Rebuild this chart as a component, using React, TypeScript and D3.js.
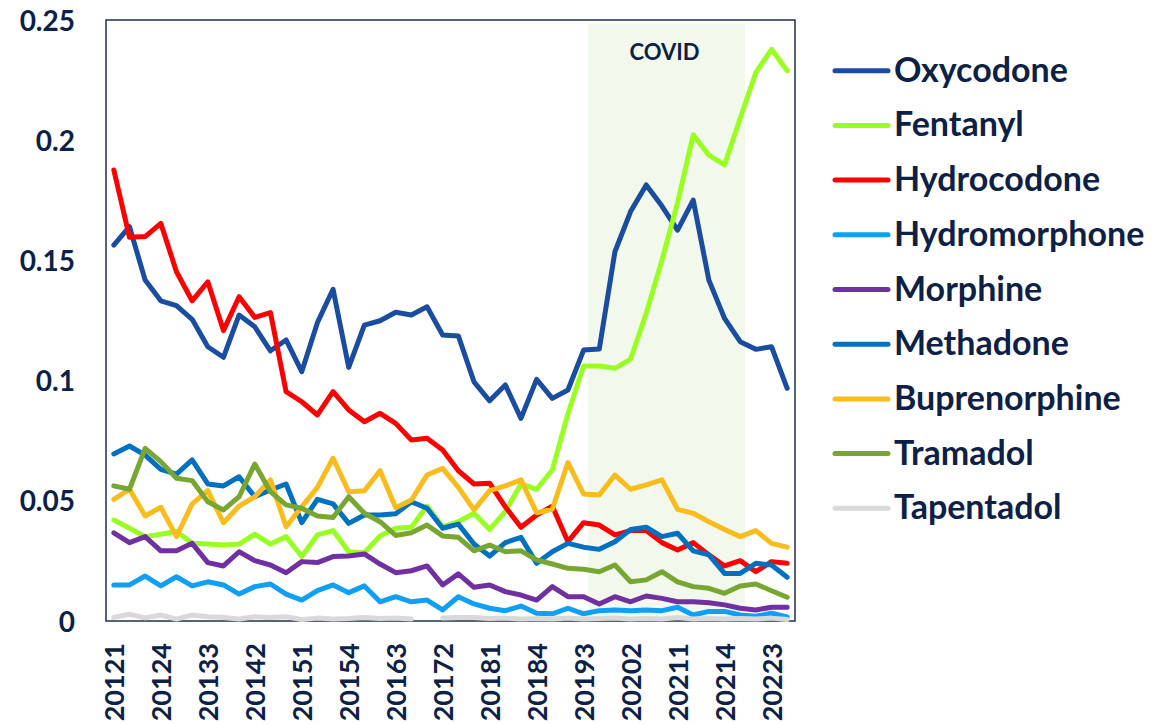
import { useEffect, useRef } from "react";
import * as d3 from "d3";

const quarters = [
  "20121", "20122", "20123", "20124", "20131", "20132", "20133", "20134",
  "20141", "20142", "20143", "20144", "20151", "20152", "20153", "20154",
  "20161", "20162", "20163", "20164", "20171", "20172", "20173", "20174",
  "20181", "20182", "20183", "20184", "20191", "20192", "20193", "20194",
  "20201", "20202", "20203", "20204", "20211", "20212", "20213", "20214",
  "20221", "20222", "20223", "20224",
];

const oxycodone = [
  0.1564, 0.164, 0.1418, 0.1332, 0.1312, 0.1255, 0.1141, 0.1097, 0.1273, 0.1224, 0.1124,
  0.1169, 0.1037, 0.1241, 0.138, 0.1055, 0.1231, 0.1249, 0.1284, 0.1273, 0.1307, 0.119,
  0.1186, 0.0995, 0.0916, 0.0982, 0.0843, 0.1005, 0.0926, 0.0961, 0.1127, 0.1131, 0.1536,
  0.1703, 0.1814, 0.1726, 0.1626, 0.1751, 0.1418, 0.1259, 0.1162, 0.113, 0.1141, 0.0968,
];
const fentanyl = [
  0.042, 0.0386, 0.0351, 0.0361, 0.0372, 0.0323, 0.032, 0.0316, 0.032, 0.0361, 0.032,
  0.0351, 0.0268, 0.0358, 0.0376, 0.0288, 0.0284, 0.0354, 0.0386, 0.039, 0.0478, 0.0392,
  0.0413, 0.0448, 0.0381, 0.0455, 0.057, 0.0548, 0.0628, 0.0862, 0.1061, 0.1061, 0.1051,
  0.1089, 0.128, 0.15, 0.174, 0.2022, 0.1938, 0.1897, 0.2091, 0.2281, 0.2378, 0.2289,
];
const hydrocodone = [
  0.1876, 0.1596, 0.1599, 0.1654, 0.1453, 0.1332, 0.1411, 0.1208, 0.1349, 0.1263, 0.1283,
  0.0954, 0.0912, 0.0857, 0.0954, 0.0878, 0.0829, 0.0864, 0.0822, 0.0753, 0.076, 0.0711,
  0.0625, 0.057, 0.0573, 0.0475, 0.039, 0.0441, 0.0478, 0.033, 0.0409, 0.0399, 0.0358,
  0.0376, 0.0376, 0.0326, 0.0295, 0.0326, 0.0275, 0.0229, 0.0251, 0.0205, 0.0247, 0.024,
];
const hydromorphone = [
  0.015, 0.015, 0.0187, 0.0146, 0.0184, 0.0146, 0.0163, 0.015, 0.0112, 0.0143, 0.0154,
  0.0112, 0.0087, 0.0126, 0.015, 0.0118, 0.0146, 0.008, 0.0101, 0.008, 0.0087, 0.0046,
  0.0101, 0.0071, 0.0053, 0.0043, 0.0062, 0.0032, 0.003, 0.0053, 0.003, 0.0043, 0.0046,
  0.0043, 0.0046, 0.0043, 0.0057, 0.0025, 0.004, 0.004, 0.0025, 0.002, 0.0032, 0.0017,
];
const morphine = [
  0.0367, 0.0326, 0.0351, 0.0292, 0.0292, 0.0323, 0.0243, 0.0229, 0.0288, 0.0251, 0.0233,
  0.0201, 0.0247, 0.0243, 0.0268, 0.027, 0.0279, 0.0237, 0.0201, 0.0209, 0.0229, 0.015,
  0.0196, 0.014, 0.015, 0.0122, 0.0108, 0.0087, 0.0143, 0.0101, 0.0101, 0.0071, 0.0101,
  0.008, 0.0104, 0.0094, 0.008, 0.008, 0.0076, 0.0067, 0.0053, 0.0046, 0.0057, 0.0057,
];
const methadone = [
  0.0695, 0.0728, 0.069, 0.0631, 0.0611, 0.067, 0.057, 0.0562, 0.06, 0.0517, 0.0545,
  0.057, 0.0409, 0.0506, 0.0487, 0.0406, 0.0441, 0.0441, 0.0446, 0.0496, 0.0469, 0.0386,
  0.0403, 0.032, 0.027, 0.0326, 0.0348, 0.024, 0.0288, 0.0323, 0.0307, 0.0298, 0.033,
  0.0381, 0.039, 0.0351, 0.0365, 0.0292, 0.0275, 0.0198, 0.0198, 0.024, 0.0233, 0.0182,
];
const buprenorphine = [
  0.0506, 0.0548, 0.0437, 0.0473, 0.0351, 0.0487, 0.0542, 0.0409, 0.0478, 0.0517, 0.0587,
  0.0392, 0.0475, 0.0556, 0.0677, 0.0538, 0.0542, 0.0625, 0.0471, 0.0503, 0.0607, 0.0635,
  0.0556, 0.0462, 0.0542, 0.0562, 0.0587, 0.045, 0.0465, 0.0659, 0.0528, 0.0524, 0.0607,
  0.0548, 0.0566, 0.0587, 0.0465, 0.0448, 0.0413, 0.0381, 0.0351, 0.0376, 0.0323, 0.0307,
];
const tramadol = [
  0.0562, 0.0548, 0.0718, 0.0663, 0.0594, 0.0584, 0.0496, 0.0462, 0.0517, 0.0653, 0.0538,
  0.0483, 0.0469, 0.0437, 0.0431, 0.0517, 0.0448, 0.0413, 0.0356, 0.0367, 0.0399, 0.0354,
  0.0348, 0.0292, 0.0316, 0.0288, 0.0292, 0.0254, 0.0237, 0.0219, 0.0215, 0.0205, 0.0233,
  0.0163, 0.0171, 0.0205, 0.0163, 0.0143, 0.0136, 0.0115, 0.0146, 0.0154, 0.0126, 0.0099,
];
const tapentadol = [
  0.0015, 0.0028, 0.0013, 0.0025, 0.0008, 0.0025, 0.0018, 0.0015, 0.0008, 0.0018, 0.0015,
  0.0018, 0.0006, 0.0012, 0.0008, 0.001, 0.0015, 0.001, 0.0012, 0.0008, null, 0.0012,
  0.0015, 0.0015, 0.001, 0.0012, 0.0008, 0.001, 0.0008, 0.0012, 0.0008, 0.001, 0.0012,
  0.0008, 0.001, 0.0008, 0.0015, 0.0008, 0.001, 0.0008, 0.001, 0.0008, 0.0012, 0.0006,
];

const seriesNames = [
  "Oxycodone", "Fentanyl", "Hydrocodone", "Hydromorphone", "Morphine",
  "Methadone", "Buprenorphine", "Tramadol", "Tapentadol",
];
const seriesValues = [
  oxycodone, fentanyl, hydrocodone, hydromorphone, morphine,
  methadone, buprenorphine, tramadol, tapentadol,
];
const seriesColors = [
  "#1A4C9F", "#99FF22", "#FF0000", "#0FA0F5", "#7030A0",
  "#0070C0", "#F8BC1C", "#78A632", "#D9D9D9",
];

const tickQuarters = quarters.filter((_, i) => i % 3 === 0);
const yTicks = [0, 0.05, 0.1, 0.15, 0.2, 0.25];
const covidRange = ["20194", "20221"];

const ink = "#0D2147";
const font = "Lato, 'DejaVu Sans', sans-serif";

export default function App() {
  const ref = useRef<SVGSVGElement>(null);

  useEffect(() => {
    if (!ref.current) return;
    const w = 1171,
      h = 724,
      margin = { top: 20, right: 376, bottom: 103, left: 106 };

    const svg = d3.select(ref.current);
    svg.selectAll("*").remove();
    svg.attr("width", w).attr("height", h).attr("viewBox", `0 0 ${w} ${h}`);

    const x = d3
      .scalePoint<string>()
      .domain(quarters)
      .range([margin.left, w - margin.right])
      .padding(0.5);
    const y = d3.scaleLinear().domain([0, 0.25]).range([h - margin.bottom, margin.top]);
    const step = x.step();

    // covid shading
    const cx0 = (x(covidRange[0]) as number) - step * 0.72;
    const cx1 = (x(covidRange[1]) as number) + step * 0.3;
    svg
      .append("rect")
      .attr("x", cx0)
      .attr("y", margin.top + 4)
      .attr("width", cx1 - cx0)
      .attr("height", h - margin.bottom - margin.top - 4)
      .attr("fill", "#F2F8EB");

    svg
      .append("text")
      .attr("x", (cx0 + cx1) / 2 - 2)
      .attr("y", 60)
      .attr("text-anchor", "middle")
      .attr("font-family", font)
      .attr("font-weight", 700)
      .attr("font-size", 22)
      .attr("fill", ink)
      .text("COVID");

    // frame
    svg
      .append("rect")
      .attr("x", margin.left)
      .attr("y", margin.top)
      .attr("width", w - margin.left - margin.right)
      .attr("height", h - margin.top - margin.bottom)
      .attr("fill", "none")
      .attr("stroke", "#1F2E52")
      .attr("stroke-width", 1.5);

    const line = d3
      .line<number | null>()
      .defined((d) => d != null)
      .x((_, i) => x(quarters[i]) as number)
      .y((d) => y(d as number));

    seriesValues.forEach((vals, k) => {
      svg
        .append("path")
        .datum(vals)
        .attr("d", line)
        .attr("fill", "none")
        .attr("stroke", seriesColors[k])
        .attr("stroke-width", 5)
        .attr("stroke-linejoin", "round")
        .attr("stroke-linecap", "round");
    });

    // y axis
    const yAxis = svg
      .append("g")
      .attr("transform", `translate(${margin.left},0)`)
      .call(d3.axisLeft(y).tickValues(yTicks).tickSize(0).tickPadding(31).tickFormat(d3.format("~g")));
    yAxis.select(".domain").remove();
    yAxis
      .selectAll("text")
      .attr("font-family", font)
      .attr("font-weight", 700)
      .attr("font-size", 28)
      .attr("fill", ink)
      .attr("dy", "0.36em");

    // x axis
    const xAxis = svg
      .append("g")
      .attr("transform", `translate(0,${h - margin.bottom})`)
      .call(d3.axisBottom(x).tickValues(tickQuarters).tickSize(0));
    xAxis.select(".domain").remove();
    xAxis
      .selectAll("text")
      .attr("font-family", font)
      .attr("font-weight", 700)
      .attr("font-size", 27)
      .attr("fill", ink)
      .attr("text-anchor", "end")
      .attr("transform", "translate(0,22) rotate(-90)")
      .attr("x", 0)
      .attr("y", 0)
      .attr("dy", "0.36em");

    // legend
    const lg = svg.append("g");
    seriesNames.forEach((name, k) => {
      const ly = 70.7 + k * 54.7;
      lg.append("line")
        .attr("x1", 835)
        .attr("x2", 888)
        .attr("y1", ly)
        .attr("y2", ly)
        .attr("stroke", seriesColors[k])
        .attr("stroke-width", 5)
        .attr("stroke-linecap", "round");
      lg.append("text")
        .attr("x", 894)
        .attr("y", ly + 11)
        .attr("font-family", font)
        .attr("font-weight", 700)
        .attr("font-size", 34)
        .attr("fill", ink)
        .text(name);
    });
  }, []);

  return <svg ref={ref} style={{ position: "absolute", left: 0, top: 0, display: "block" }} />;
}
